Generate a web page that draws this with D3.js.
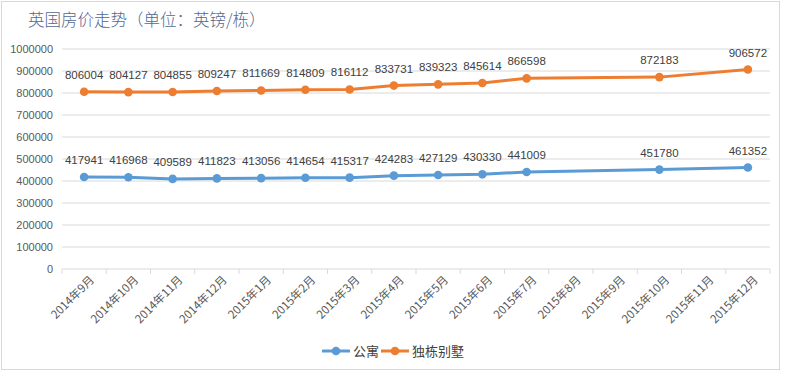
<!DOCTYPE html>
<html>
<head>
<meta charset="utf-8">
<script src="https://cdn.jsdelivr.net/npm/d3@7"></script>
<style>
  body { margin: 0; background: #fff; }
  svg { display: block; font-family: "Microsoft YaHei", "Noto Sans CJK SC", sans-serif; }
</style>
</head>
<body>
<svg id="chart" width="785" height="373"></svg>
<script>
const months = ["2014年9月", "2014年10月", "2014年11月", "2014年12月", "2015年1月", "2015年2月",
  "2015年3月", "2015年4月", "2015年5月", "2015年6月", "2015年7月", "2015年8月",
  "2015年9月", "2015年10月", "2015年11月", "2015年12月"];
// null = no data that month, line just goes straight across
const apartment = [417941, 416968, 409589, 411823, 413056, 414654, 415317, 424283, 427129, 430330, 441009, null, null, 451780, null, 461352];
const detached = [806004, 804127, 804855, 809247, 811669, 814809, 816112, 833731, 839323, 845614, 866598, null, null, 872183, null, 906572];
const yTicks = [0, 100000, 200000, 300000, 400000, 500000, 600000, 700000, 800000, 900000, 1000000];

const seriesList = [
  { name: "公寓", values: apartment, color: "#5B9BD5" },
  { name: "独栋别墅", values: detached, color: "#ED7D31" }
];

const numFont = "'Liberation Sans', Arial, sans-serif";
const svg = d3.select("#chart");
const W = 785, H = 373;
const margin = { top: 49, right: 15, bottom: 104, left: 62 };
const width = W - margin.left - margin.right;
const height = H - margin.top - margin.bottom;

// outer frame
svg.append("rect").attr("x", 1.5).attr("y", 1.5).attr("width", 778).attr("height", 368)
  .attr("fill", "#fff").attr("stroke", "#d9d9d9");

svg.append("text").attr("x", 28).attr("y", 26)
  .attr("font-size", 16.5).attr("font-weight", 300).attr("fill", "#52688F")
  .text("英国房价走势（单位：英镑/栋）");

const g = svg.append("g").attr("transform", `translate(${margin.left},${margin.top})`);

const x = d3.scaleBand().domain(months).range([0, width]);
const y = d3.scaleLinear().domain([0, 1000000]).range([height, 0]);

// gridlines
g.append("g").selectAll("line").data(yTicks.slice(1)).enter().append("line")
  .attr("x1", 0).attr("x2", width)
  .attr("y1", d => y(d)).attr("y2", d => y(d))
  .attr("stroke", "#d9d9d9");

const yAxis = g.append("g").call(d3.axisLeft(y).tickValues(yTicks).tickSize(0).tickPadding(9).tickFormat(d3.format("d")));
yAxis.select(".domain").remove();
yAxis.selectAll("text").attr("fill", "#595959").attr("font-size", 11).attr("font-family", numFont);

// x axis with ticks at band edges
const xAxis = g.append("g").attr("transform", `translate(0,${height})`);
xAxis.append("line").attr("x1", 0).attr("x2", width).attr("stroke", "#d9d9d9");
xAxis.selectAll(".tk").data(months.concat(["end"])).enter().append("line")
  .attr("class", "tk")
  .attr("x1", (d, i) => i * x.bandwidth()).attr("x2", (d, i) => i * x.bandwidth())
  .attr("y1", 0).attr("y2", 5).attr("stroke", "#d9d9d9");
xAxis.selectAll("text").data(months).enter().append("text")
  .attr("transform", d => `translate(${x(d) + x.bandwidth() / 2 + 5},${6}) rotate(-45)`)
  .attr("text-anchor", "end").attr("dy", "0.7em")
  .attr("font-size", 11.5).attr("fill", "#595959")
  .text(d => d);

const line = d3.line().x(d => x(d.m) + x.bandwidth() / 2).y(d => y(d.v));

seriesList.forEach(s => {
  const pts = months.map((m, i) => ({ m, v: s.values[i] })).filter(d => d.v != null);
  const sg = g.append("g");
  sg.append("path").datum(pts).attr("d", line)
    .attr("fill", "none").attr("stroke", s.color).attr("stroke-width", 3).attr("stroke-linejoin", "round");
  sg.selectAll("circle").data(pts).enter().append("circle")
    .attr("cx", d => x(d.m) + x.bandwidth() / 2).attr("cy", d => y(d.v)).attr("r", 4.3)
    .attr("fill", s.color);
  sg.selectAll("text").data(pts).enter().append("text")
    .attr("x", d => x(d.m) + x.bandwidth() / 2).attr("y", d => y(d.v) - 13)
    .attr("text-anchor", "middle").attr("font-size", 11.5).attr("fill", "#404040")
    .attr("font-family", numFont)
    .text(d => d.v);
});

// legend
const legend = svg.append("g").attr("transform", "translate(322,351)");
let lx = 0;
seriesList.forEach(s => {
  const it = legend.append("g").attr("transform", `translate(${lx},0)`);
  it.append("line").attr("x1", 0).attr("x2", 28).attr("stroke", s.color).attr("stroke-width", 3);
  it.append("circle").attr("cx", 14).attr("r", 4.3).attr("fill", s.color);
  it.append("text").attr("x", 31).attr("dy", "0.35em").attr("font-size", 13).attr("fill", "#404040").text(s.name);
  lx += 59;
});
</script>
</body>
</html>
